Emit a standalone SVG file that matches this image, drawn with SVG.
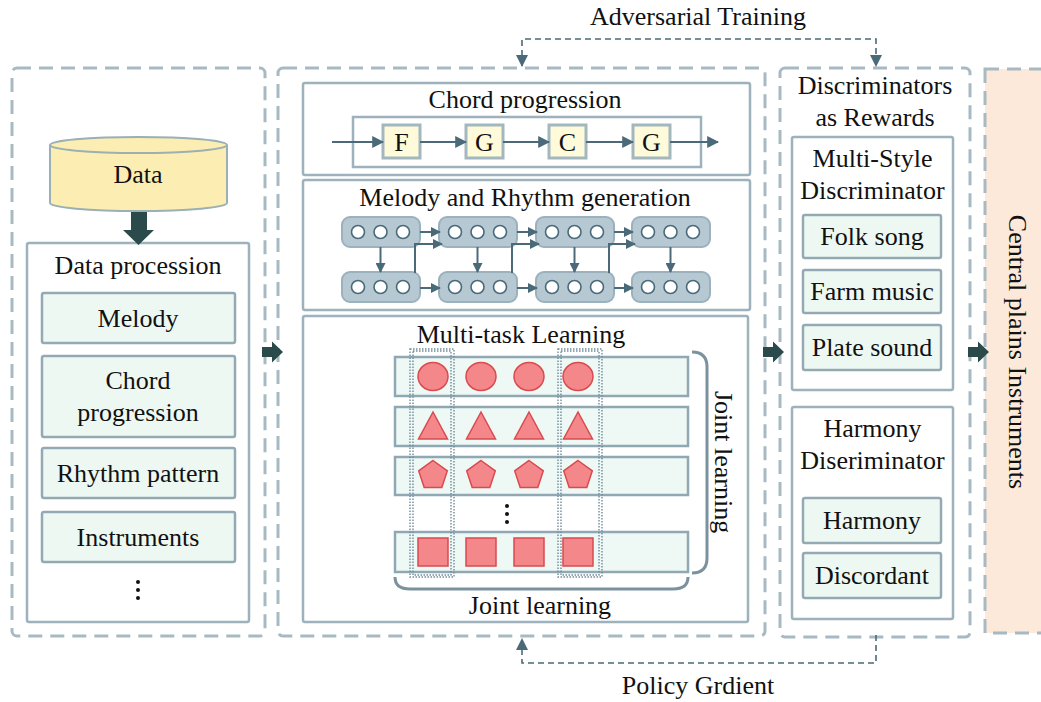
<svg xmlns="http://www.w3.org/2000/svg" width="1041" height="702" viewBox="0 0 1041 702">
  <defs>
    <style>
      text { font-family: "Liberation Serif", "Times New Roman", serif; font-size: 26px; fill: #111; text-anchor: middle; dominant-baseline: central; }
      .panel { fill: none; stroke: #A7BAC4; stroke-width: 3; stroke-dasharray: 14 8; }
      .box { fill: #fff; stroke: #9DB2BC; stroke-width: 2.5; }
      .item { fill: #EEF8F3; stroke: #93AAB5; stroke-width: 2.5; }
      .chord { fill: #FFFBDA; stroke: #A3B7BF; stroke-width: 3; }
      .pill { fill: #B6C9D3; stroke: #9BB1BD; stroke-width: 2; }
      .dot { fill: #fff; stroke: #4A6A7A; stroke-width: 1.6; }
      .flow { fill: none; stroke: #4A6A7A; stroke-width: 2; }
      .loop { fill: none; stroke: #4A6A7A; stroke-width: 1.6; stroke-dasharray: 6 4; }
      .row { fill: #EEF8F4; stroke: #8FA8B3; stroke-width: 2.5; }
      .shape { fill: #F3878A; stroke: #D94A4F; stroke-width: 1.5; }
      .col { fill: none; stroke: #6F8C9B; stroke-width: 1.4; stroke-dasharray: 1.5 1.5; }
      .brace { fill: none; stroke: #7A929E; stroke-width: 3; }
      .bold { fill: #2A4A4C; }
      .ell { fill: #111; }
    </style>
    <marker id="tri" viewBox="0 0 10 10" refX="9" refY="5" markerWidth="10" markerHeight="10" markerUnits="userSpaceOnUse" orient="auto">
      <path d="M0,0 L10,5 L0,10 z" fill="#4A6A7A"/>
    </marker>
    <marker id="tri2" viewBox="0 0 10 10" refX="9" refY="5" markerWidth="12" markerHeight="12" markerUnits="userSpaceOnUse" orient="auto">
      <path d="M0,0 L10,5 L0,10 z" fill="#4A6A7A"/>
    </marker>
    <g id="pillRow">
      <rect class="pill" x="0" y="0" width="78" height="30" rx="8"/>
      <circle class="dot" cx="16" cy="15" r="6.5"/>
      <circle class="dot" cx="38.5" cy="15" r="6.5"/>
      <circle class="dot" cx="61" cy="15" r="6.5"/>
    </g>
    <ellipse id="circ" class="shape" cx="0" cy="0" rx="15" ry="14"/>
    <path id="tri3" class="shape" d="M0,-14 L14.5,13 L-14.5,13 z"/>
    <path id="pent" class="shape" d="M0,-15 L14.3,-4.6 L8.8,12.1 L-8.8,12.1 L-14.3,-4.6 z"/>
    <rect id="sq" class="shape" x="-15" y="-14" width="30" height="28"/>
    <path id="fat" class="bold" d="M0,-5 L10,-5 L10,-10.5 L21,0 L10,10.5 L10,5 L0,5 z"/>
    <g id="vdots">
      <circle class="ell" cx="0" cy="-8" r="2"/>
      <circle class="ell" cx="0" cy="0" r="2"/>
      <circle class="ell" cx="0" cy="8" r="2"/>
    </g>
  </defs>

  <!-- stage outlines -->
  <g id="stages">
    <rect class="panel" x="12" y="68" width="253" height="568" rx="5"/>
    <rect class="panel" x="278" y="68" width="487" height="568" rx="5"/>
    <rect class="panel" x="780" y="68" width="190" height="569" rx="5"/>
  </g>

  <!-- output stage -->
  <g id="output">
    <rect x="985" y="69" width="70" height="564" fill="#FDE9D9" stroke="#A7BAC4" stroke-width="3" stroke-dasharray="14 8"/>
    <text transform="translate(1017,352) rotate(90)">Central plains Instruments</text>
  </g>

  <!-- data source -->
  <g id="data">
    <path d="M50,145 L50,203 A88.5,8 0 0 0 227,203 L227,145" fill="#FCEDB3" stroke="#9AB0B5" stroke-width="2"/>
    <ellipse cx="138.5" cy="145" rx="88.5" ry="8" fill="#FCEDB3" stroke="#9AB0B5" stroke-width="2"/>
    <text x="138" y="174">Data</text>
  </g>

  <!-- data processing -->
  <g id="processing">
    <rect class="box" x="27" y="243" width="222" height="379" rx="2"/>
    <text x="138" y="265">Data procession</text>
    <rect class="item" x="42" y="293" width="193" height="50" rx="2"/>
    <text x="138" y="318">Melody</text>
    <rect class="item" x="42" y="356" width="193" height="81" rx="2"/>
    <text x="138" y="380">Chord</text>
    <text x="138" y="412">progression</text>
    <rect class="item" x="42" y="448" width="193" height="50" rx="2"/>
    <text x="138" y="473">Rhythm pattern</text>
    <rect class="item" x="42" y="512" width="193" height="50" rx="2"/>
    <text x="138" y="537">Instruments</text>
    <use href="#vdots" x="138" y="590"/>
  </g>

  <!-- chord progression -->
  <g id="chords">
    <rect class="box" x="303" y="83" width="447" height="92" rx="2"/>
    <text x="525" y="99">Chord progression</text>
    <rect x="353" y="117" width="348" height="50" fill="none" stroke="#9DB2BC" stroke-width="2.5"/>
    <rect class="chord" x="383" y="125" width="37" height="33"/>
    <text x="401.5" y="142">F</text>
    <rect class="chord" x="466" y="125" width="37" height="33"/>
    <text x="484.5" y="142">G</text>
    <rect class="chord" x="549" y="125" width="37" height="33"/>
    <text x="567.5" y="142">C</text>
    <rect class="chord" x="633" y="125" width="37" height="33"/>
    <text x="651.5" y="142">G</text>
  </g>

  <!-- melody and rhythm generation -->
  <g id="melody">
    <rect class="box" x="303" y="180" width="447" height="130" rx="2"/>
    <text x="525" y="197">Melody and Rhythm generation</text>
    <use href="#pillRow" x="342" y="217"/>
    <use href="#pillRow" x="439" y="217"/>
    <use href="#pillRow" x="536" y="217"/>
    <use href="#pillRow" x="632" y="217"/>
    <use href="#pillRow" x="342" y="272"/>
    <use href="#pillRow" x="439" y="272"/>
    <use href="#pillRow" x="536" y="272"/>
    <use href="#pillRow" x="632" y="272"/>
  </g>

  <!-- multi-task learning -->
  <g id="multitask">
    <rect class="box" x="303" y="316" width="445" height="306" rx="2"/>
    <text x="521" y="334">Multi-task Learning</text>
    <rect class="row" x="395" y="357" width="293" height="39"/>
    <rect class="row" x="395" y="407" width="293" height="39"/>
    <rect class="row" x="395" y="457" width="293" height="38"/>
    <rect class="row" x="395" y="532" width="293" height="40"/>
    <use href="#circ" x="433" y="376.5"/>
    <use href="#circ" x="481" y="376.5"/>
    <use href="#circ" x="529" y="376.5"/>
    <use href="#circ" x="578" y="376.5"/>
    <use href="#tri3" x="433" y="426"/>
    <use href="#tri3" x="481" y="426"/>
    <use href="#tri3" x="529" y="426"/>
    <use href="#tri3" x="578" y="426"/>
    <use href="#pent" x="433" y="475.5"/>
    <use href="#pent" x="481" y="475.5"/>
    <use href="#pent" x="529" y="475.5"/>
    <use href="#pent" x="578" y="475.5"/>
    <use href="#sq" x="433" y="552"/>
    <use href="#sq" x="481" y="552"/>
    <use href="#sq" x="529" y="552"/>
    <use href="#sq" x="578" y="552"/>
    <rect class="col" x="410" y="349" width="44" height="228"/>
    <rect class="col" x="413" y="351" width="38" height="224"/>
    <rect class="col" x="558" y="349" width="44" height="228"/>
    <rect class="col" x="561" y="351" width="38" height="224"/>
    <use href="#vdots" x="507" y="514"/>
    <path class="brace" d="M692,352 Q707,352 707,367 L707,558 Q707,573 692,573"/>
    <text transform="translate(723,462) rotate(90)">Joint learning</text>
    <path class="brace" d="M395,577 Q395,589 410,589 L673,589 Q688,589 688,577"/>
    <text x="540" y="605">Joint learning</text>
  </g>

  <!-- discriminators -->
  <g id="discriminators">
    <text x="875" y="85">Discriminators</text>
    <text x="875" y="117">as Rewards</text>
  </g>
  <g id="style-disc">
    <rect class="box" x="792" y="137" width="161" height="253" rx="2"/>
    <text x="872.5" y="158">Multi-Style</text>
    <text x="872.5" y="190">Discriminator</text>
    <rect class="item" x="803" y="215" width="138" height="43" rx="2"/>
    <text x="872" y="236">Folk song</text>
    <rect class="item" x="803" y="270" width="138" height="43" rx="2"/>
    <text x="872" y="291">Farm music</text>
    <rect class="item" x="803" y="325" width="138" height="45" rx="2"/>
    <text x="872" y="347">Plate sound</text>
  </g>
  <g id="harmony-disc">
    <rect class="box" x="792" y="407" width="161" height="212" rx="2"/>
    <text x="872.5" y="428">Harmony</text>
    <text x="872.5" y="460">Diseriminator</text>
    <rect class="item" x="803" y="498" width="138" height="45" rx="2"/>
    <text x="872" y="520">Harmony</text>
    <rect class="item" x="803" y="553" width="138" height="45" rx="2"/>
    <text x="872" y="575">Discordant</text>
  </g>

  <!-- connectors -->
  <g id="connectors">
    <!-- data into processing -->
    <path class="bold" d="M131,212 L147,212 L147,230 L154,230 L138.5,245 L123,230 L131,230 z"/>
    <!-- stage to stage -->
    <use href="#fat" x="262" y="352"/>
    <use href="#fat" x="763" y="352"/>
    <use href="#fat" x="968" y="352"/>

    <!-- chord chain -->
    <line class="flow" x1="332" y1="142" x2="383" y2="142" marker-end="url(#tri2)"/>
    <line class="flow" x1="420" y1="142" x2="466" y2="142" marker-end="url(#tri2)"/>
    <line class="flow" x1="503" y1="142" x2="549" y2="142" marker-end="url(#tri2)"/>
    <line class="flow" x1="586" y1="142" x2="633" y2="142" marker-end="url(#tri2)"/>
    <line class="flow" x1="670" y1="142" x2="718" y2="142" marker-end="url(#tri2)"/>

    <!-- melody lattice: across the top row -->
    <line class="flow" x1="420" y1="232" x2="440" y2="232" marker-end="url(#tri)"/>
    <line class="flow" x1="517" y1="232" x2="537" y2="232" marker-end="url(#tri)"/>
    <line class="flow" x1="614" y1="232" x2="633" y2="232" marker-end="url(#tri)"/>
    <!-- across the bottom row -->
    <line class="flow" x1="420" y1="288" x2="440" y2="288" marker-end="url(#tri)"/>
    <line class="flow" x1="517" y1="288" x2="537" y2="288" marker-end="url(#tri)"/>
    <line class="flow" x1="614" y1="288" x2="633" y2="288" marker-end="url(#tri)"/>
    <!-- top to bottom -->
    <line class="flow" x1="380.5" y1="247" x2="380.5" y2="272" marker-end="url(#tri)"/>
    <line class="flow" x1="477.5" y1="247" x2="477.5" y2="272" marker-end="url(#tri)"/>
    <line class="flow" x1="574.5" y1="247" x2="574.5" y2="272" marker-end="url(#tri)"/>
    <line class="flow" x1="670.5" y1="247" x2="670.5" y2="272" marker-end="url(#tri)"/>
    <!-- bottom to next top -->
    <path class="flow" d="M415,273 L415,244 L442,244" marker-end="url(#tri)"/>
    <path class="flow" d="M512,273 L512,244 L539,244" marker-end="url(#tri)"/>
    <path class="flow" d="M609,273 L609,244 L635,244" marker-end="url(#tri)"/>

    <!-- adversarial training loop -->
    <path class="loop" d="M522,66 L522,39 L876,39 L876,66"/>
    <path d="M516,55 L528,55 L522,67 z" fill="#4A6A7A"/>
    <path d="M870,55 L882,55 L876,67 z" fill="#4A6A7A"/>
    <text x="698" y="16">Adversarial Training</text>

    <!-- policy gradient loop -->
    <path class="loop" d="M876,635 L876,663 L522,663 L522,645"/>
    <path d="M516,650 L528,650 L522,638 z" fill="#4A6A7A"/>
    <text x="698" y="685">Policy Grdient</text>
  </g>
</svg>
